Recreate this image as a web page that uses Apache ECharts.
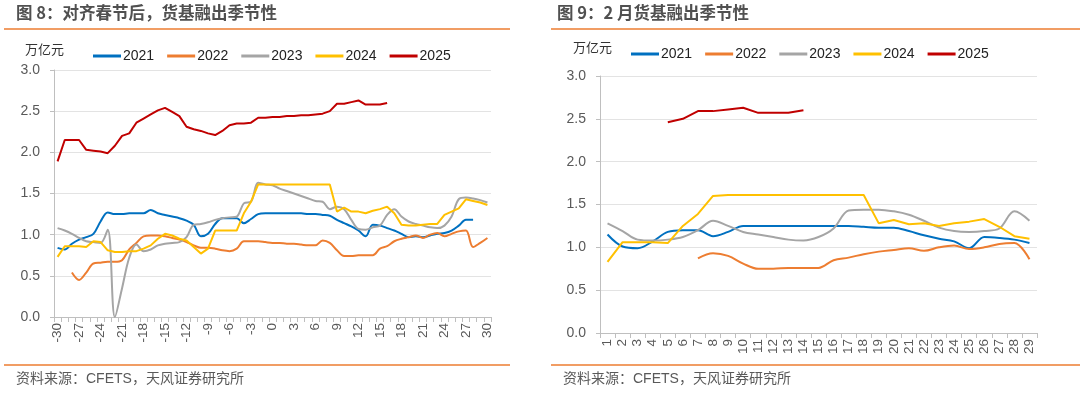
<!DOCTYPE html>
<html><head><meta charset="utf-8">
<script src="https://cdn.jsdelivr.net/npm/echarts@6/dist/echarts.min.js"></script>
<style>html,body{margin:0;padding:0;background:#fff}#c{width:1080px;height:393px}</style>
</head><body><div id="c"></div>
<script>
// ---- data ----
const seriesNames = ['2021','2022','2023','2024','2025'];
const colors = ['#0070C0','#ED7D31','#A5A5A5','#FFC000','#C00000'];
const yTicks = [0,0.5,1,1.5,2,2.5,3];

// Left chart: days relative to Spring Festival, -30..30
const daysLeft = [];
for (let d = -30; d <= 30; d++) daysLeft.push(String(d));
const left2021 = [0.84,0.82,0.89,0.94,0.97,1.01,1.16,1.27,1.25,1.25,1.26,1.26,1.26,1.30,1.26,1.24,1.22,1.20,1.17,1.12,0.98,1.01,1.13,1.20,1.20,1.20,1.14,1.19,1.25,1.26,
  1.26,1.26,1.26,1.26,1.26,1.25,1.25,1.24,1.23,1.18,1.14,1.10,1.05,0.98,1.12,1.11,1.08,1.05,1.01,0.97,0.98,0.97,0.99,1.01,1.02,1.05,1.11,1.18,1.18,null,null];
const left2022 = [null,null,0.54,0.45,0.54,0.65,0.66,0.67,0.67,0.69,0.82,0.90,0.98,0.99,0.99,0.98,0.96,0.94,0.91,0.87,0.84,0.84,0.83,0.81,0.80,0.83,0.92,0.92,0.92,0.91,
  0.90,0.90,0.89,0.89,0.88,0.87,0.87,0.93,0.90,0.81,0.74,0.74,0.75,0.75,0.75,0.83,0.86,0.92,0.95,0.97,0.99,0.96,1.00,1.02,0.98,1.01,1.04,1.05,0.85,0.90,0.96];
const left2023 = [1.08,1.05,1.01,0.96,0.92,0.91,0.90,1.06,0.00,0.35,0.72,0.88,0.80,0.82,0.87,0.89,0.90,0.91,0.97,1.12,1.13,1.15,1.18,1.20,1.21,1.22,1.38,1.40,1.63,1.61,
  1.60,1.56,1.53,1.50,1.47,1.44,1.41,1.40,1.31,1.34,1.31,1.18,1.07,1.06,1.09,1.11,1.24,1.31,1.22,1.16,1.13,1.11,1.09,1.08,1.11,1.22,1.43,1.45,1.44,1.42,1.39];
const left2024 = [0.73,0.86,0.86,0.86,0.85,0.92,0.91,0.81,0.79,0.79,0.80,0.80,0.83,0.87,0.95,1.01,0.99,0.95,0.93,0.85,0.77,0.83,1.05,1.05,1.05,1.05,1.26,1.40,1.61,1.61,
  1.61,1.61,1.61,1.61,1.61,1.61,1.61,1.61,1.61,1.28,1.33,1.28,1.28,1.26,1.29,1.31,1.34,1.26,1.12,1.11,1.11,1.12,1.13,1.13,1.24,1.28,1.32,1.43,1.41,1.39,1.36];
const left2025 = [1.89,2.15,2.15,2.15,2.03,2.02,2.01,1.99,2.08,2.20,2.23,2.36,2.41,2.46,2.51,2.54,2.49,2.44,2.31,2.28,2.26,2.23,2.21,2.26,2.33,2.35,2.35,2.36,2.42,2.42,
  2.43,2.43,2.44,2.44,2.45,2.45,2.46,2.47,2.50,2.59,2.59,2.61,2.63,2.58,2.58,2.58,2.60,null,null,null,null,null,null,null,null,null,null,null,null,null,null];

// Right chart: February days 1..29
const daysRight = [];
for (let d = 1; d <= 29; d++) daysRight.push(String(d));
const right2021 = [1.15,1.01,0.99,1.07,1.18,1.20,1.20,1.13,1.18,1.25,1.25,1.25,1.25,1.25,1.25,1.25,1.25,1.24,1.23,1.23,1.19,1.14,1.10,1.07,0.99,1.12,1.11,1.09,1.05];
const right2022 = [null,null,null,null,null,null,0.87,0.93,0.90,0.81,0.75,0.75,0.76,0.76,0.76,0.85,0.88,0.92,0.95,0.97,0.99,0.96,1.00,1.02,0.98,1.00,1.04,1.05,0.86];
const right2023 = [1.28,1.19,1.09,1.08,1.09,1.12,1.20,1.31,1.25,1.18,1.15,1.12,1.09,1.08,1.12,1.22,1.43,1.44,1.44,1.42,1.38,1.31,1.23,1.19,1.18,1.19,1.22,1.42,1.31];
const right2024 = [0.83,1.06,1.06,1.06,1.05,1.25,1.39,1.60,1.61,1.61,1.61,1.61,1.61,1.61,1.61,1.61,1.61,1.61,1.28,1.32,1.27,1.28,1.25,1.28,1.30,1.33,1.24,1.13,1.10];
const right2025 = [null,null,null,null,2.46,2.50,2.59,2.59,2.61,2.63,2.57,2.57,2.57,2.60,null,null,null,null,null,null,null,null,null,null,null,null,null,null,null];

// ---- chart ----
const FONT = "'Liberation Sans','Noto Sans CJK SC',sans-serif";
const CJK = "'Noto Sans CJK SC','Liberation Sans',sans-serif";
const leftData = [left2021,left2022,left2023,left2024,left2025];
const rightData = [right2021,right2022,right2023,right2024,right2025];
const smoothFlags = [0.35,0.35,0.35,false,false];

function yAxis(gi){
  return {type:'value',gridIndex:gi,min:0,max:3,interval:0.5,
    axisLine:{show:true,lineStyle:{color:'#bfbfbf',width:1}},
    axisTick:{show:true,length:4,lineStyle:{color:'#bfbfbf'}},
    splitLine:{lineStyle:{color:'#e3e3e3',width:1}},
    axisLabel:{color:'#595959',fontSize:14,fontFamily:FONT,margin:14,formatter:v=>v.toFixed(1)}};
}
function xAxis(gi,cats,interval){
  return {type:'category',gridIndex:gi,data:cats,boundaryGap:true,
    axisLine:{lineStyle:{color:'#bfbfbf'}},
    axisTick:{show:true,interval:0,length:5,lineStyle:{color:'#bfbfbf'}},
    axisLabel:{interval:interval,rotate:90,color:'#595959',fontSize:13.5,fontFamily:FONT,margin:6}};
}
const series = [];
for (let i=0;i<5;i++){
  series.push({name:seriesNames[i],type:'line',xAxisIndex:0,yAxisIndex:0,data:leftData[i],
    smooth:smoothFlags[i],showSymbol:false,symbol:'none',connectNulls:false,
    lineStyle:{color:colors[i],width:2},itemStyle:{color:colors[i]},z:2+(i===4?1:0)});
  series.push({name:seriesNames[i],type:'line',xAxisIndex:1,yAxisIndex:1,data:rightData[i],
    smooth:smoothFlags[i],showSymbol:false,symbol:'none',
    lineStyle:{color:colors[i],width:2},itemStyle:{color:colors[i]}});
}
function legend(left,top){
  return {left:left,top:top,icon:'rect',itemWidth:28,itemHeight:3,itemGap:13,
    data:seriesNames,textStyle:{color:'#222',fontSize:14,fontFamily:FONT,padding:[0,0,0,-3]}};
}
const chart = echarts.init(document.getElementById('c'),null,{renderer:'canvas'});
chart.setOption({
  animation:false,
  color:colors,
  grid:[{left:54,top:70,width:437,height:247},{left:600,top:76,width:437,height:257}],
  xAxis:[xAxis(0,daysLeft,2),xAxis(1,daysRight,0)],
  yAxis:[yAxis(0),yAxis(1)],
  legend:[legend(88,44),legend(626,42)],
  series:series,
  graphic:[
    {type:'text',left:16,top:4,style:{text:'图 8：对齐春节后，货基融出季节性',fill:'#505050',font:"bold 16.5px "+CJK}},
    {type:'text',left:557,top:4,style:{text:'图 9：2 月货基融出季节性',fill:'#505050',font:"bold 16.5px "+CJK}},
    {type:'line',shape:{x1:4,y1:29,x2:510,y2:29},style:{stroke:'#ED7D31',lineWidth:1.5}},
    {type:'line',shape:{x1:551,y1:29,x2:1080,y2:29},style:{stroke:'#ED7D31',lineWidth:1.5}},
    {type:'text',left:25,top:43,style:{text:'万亿元',fill:'#333',font:"13px "+CJK}},
    {type:'text',left:573,top:41,style:{text:'万亿元',fill:'#333',font:"13px "+CJK}},
    {type:'line',shape:{x1:4,y1:365,x2:510,y2:365},style:{stroke:'#ED7D31',lineWidth:1.5}},
    {type:'line',shape:{x1:551,y1:365,x2:1080,y2:365},style:{stroke:'#ED7D31',lineWidth:1.5}},
    {type:'text',left:16,top:372,style:{text:'资料来源：CFETS，天风证券研究所',fill:'#595959',font:"14px "+FONT}},
    {type:'text',left:563,top:372,style:{text:'资料来源：CFETS，天风证券研究所',fill:'#595959',font:"14px "+FONT}}
  ]
});
</script></body></html>
